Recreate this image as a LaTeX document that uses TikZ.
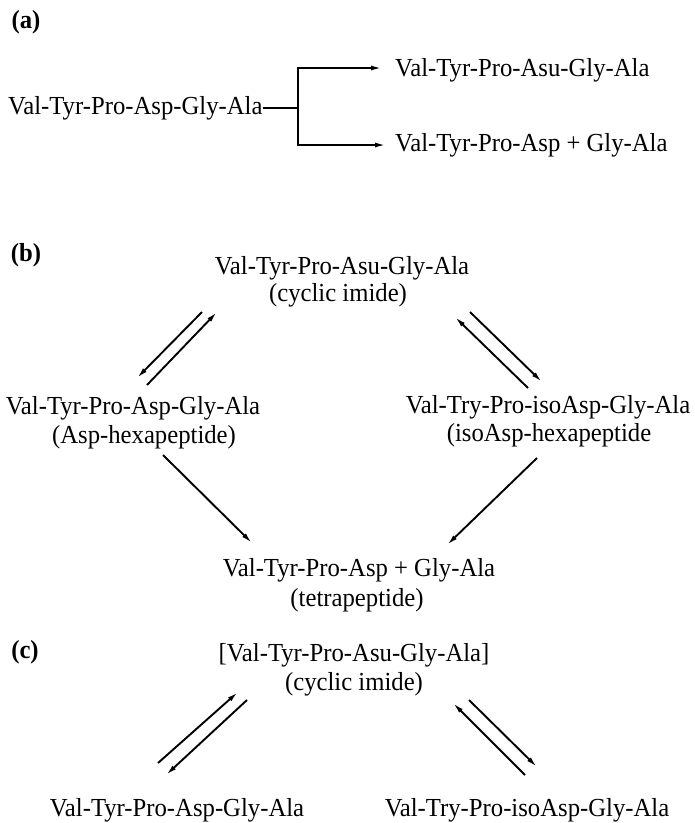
\documentclass[tikz,border=0pt]{standalone}
\usepackage{fontspec}
\setmainfont[FakeStretch=0.95]{Liberation Serif}
\usetikzlibrary{arrows.meta}
\begin{document}
\begin{tikzpicture}[x=1pt,y=-1pt,
  font=\fontsize{26}{30}\selectfont,
  lbl/.style={inner sep=0pt},
  ln/.style={line width=2.1pt},
  arr/.style={line width=1.9pt,-{Latex[length=11pt,width=5pt]}}]
\useasboundingbox (0,0) rectangle (695,823);
% ---------- (a)
\node[lbl] (la) at (26,22) {\bfseries (a)};
\node[lbl,anchor=west] (asrc) at (8,108) {Val-Tyr-Pro-Asp-Gly-Ala};
\node[lbl,anchor=west] (atop) at (395,70) {Val-Tyr-Pro-Asu-Gly-Ala};
\node[lbl,anchor=west] (abot) at (395,145) {Val-Tyr-Pro-Asp + Gly-Ala};
\coordinate (abr) at (298,108);
\coordinate (abt) at (298,68);
\coordinate (abb) at (298,145);
\coordinate (abte) at (382,68);
\coordinate (abbe) at (386,145);
\draw[ln] (asrc.east) -- (abr);
\draw[ln,line cap=rect] (abt) -- (abb);
\draw[arr] (abt) -- (abte);
\draw[arr] (abb) -- (abbe);
% ---------- (b)
\node[lbl] (lb) at (26,255) {\bfseries (b)};
\node[lbl] (btop) at (342,268) {Val-Tyr-Pro-Asu-Gly-Ala};
\node[lbl] (btop2) at (338,295) {(cyclic imide)};
\node[lbl] (bl) at (133,408) {Val-Tyr-Pro-Asp-Gly-Ala};
\node[lbl] (bl2) at (144,437) {(Asp-hexapeptide)};
\node[lbl] (br) at (548,407) {Val-Try-Pro-isoAsp-Gly-Ala};
\node[lbl] (br2) at (549,435) {(isoAsp-hexapeptide};
\node[lbl] (bbot) at (359,570) {Val-Tyr-Pro-Asp + Gly-Ala};
\node[lbl] (bbot2) at (357,600) {(tetrapeptide)};
\coordinate (bA1) at (202,312); \coordinate (bA2) at (137,378);
\coordinate (bB1) at (147,385); \coordinate (bB2) at (217,312);
\coordinate (bC1) at (528,388); \coordinate (bC2) at (455,317);
\coordinate (bD1) at (470,312); \coordinate (bD2) at (542,382);
\coordinate (bE1) at (163,455); \coordinate (bE2) at (252,543);
\coordinate (bF1) at (537,458); \coordinate (bF2) at (447,545);
\draw[arr] (bA1) -- (bA2);
\draw[arr] (bB1) -- (bB2);
\draw[arr] (bC1) -- (bC2);
\draw[arr] (bD1) -- (bD2);
\draw[arr] (bE1) -- (bE2);
\draw[arr] (bF1) -- (bF2);
% ---------- (c)
\node[lbl] (lc) at (25,652) {\bfseries (c)};
\node[lbl] (ctop) at (354,655) {[Val-Tyr-Pro-Asu-Gly-Ala]};
\node[lbl] (ctop2) at (354,684) {(cyclic imide)};
\node[lbl] (cl) at (177,810) {Val-Tyr-Pro-Asp-Gly-Ala};
\node[lbl] (cr) at (527,810) {Val-Try-Pro-isoAsp-Gly-Ala};
\coordinate (cE1) at (158,763); \coordinate (cE2) at (238,692);
\coordinate (cF1) at (247,700); \coordinate (cF2) at (166,775);
\coordinate (cG1) at (525,775); \coordinate (cG2) at (453,703);
\coordinate (cH1) at (469,700); \coordinate (cH2) at (537,767);
\draw[arr] (cE1) -- (cE2);
\draw[arr] (cF1) -- (cF2);
\draw[arr] (cG1) -- (cG2);
\draw[arr] (cH1) -- (cH2);
\end{tikzpicture}
\end{document}
